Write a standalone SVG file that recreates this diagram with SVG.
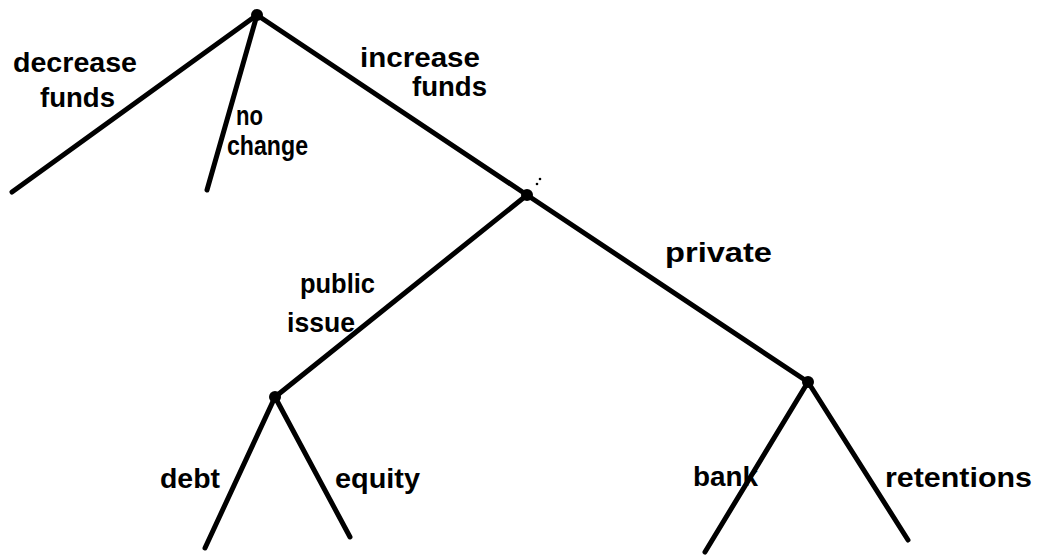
<svg xmlns="http://www.w3.org/2000/svg" width="1038" height="558" viewBox="0 0 1038 558">
<style>
.e{stroke:#000;stroke-width:5;stroke-linecap:round;fill:none}
.d{fill:#000}
.t{font-family:"Liberation Sans",Arial,sans-serif;font-size:27px;font-weight:bold;fill:#000}
</style>
<rect width="1038" height="558" fill="#fff"/>
<g id="connectors">
<line class="e" x1="257" y1="15" x2="12" y2="192"/>
<line class="e" x1="257" y1="15" x2="207" y2="190"/>
<line class="e" x1="257" y1="15" x2="527" y2="195"/>
<line class="e" x1="527" y1="195" x2="275" y2="397"/>
<line class="e" x1="527" y1="195" x2="808" y2="382"/>
<line class="e" x1="275" y1="397" x2="205" y2="548"/>
<line class="e" x1="275" y1="397" x2="350" y2="537"/>
<line class="e" x1="808" y1="382" x2="705" y2="552"/>
<line class="e" x1="808" y1="382" x2="908" y2="540"/>
</g>
<g id="n-root"><circle class="d" cx="257" cy="15" r="6"/></g>
<g id="n-increase"><circle class="d" cx="527" cy="195" r="6"/><circle class="d" cx="540" cy="179" r="1.3"/><circle class="d" cx="537" cy="184" r="1.3"/></g>
<g id="n-public"><circle class="d" cx="275" cy="397" r="6"/></g>
<g id="n-private"><circle class="d" cx="808" cy="382" r="6"/></g>
<g id="labels">
<text class="t" x="13" y="72" textLength="124" lengthAdjust="spacingAndGlyphs">decrease</text>
<text class="t" x="40" y="107" textLength="75" lengthAdjust="spacingAndGlyphs">funds</text>
<text class="t" x="236" y="125" font-size="22" textLength="27" lengthAdjust="spacingAndGlyphs">no</text>
<text class="t" x="227" y="155" textLength="81" lengthAdjust="spacingAndGlyphs">change</text>
<text class="t" x="360" y="67" textLength="120" lengthAdjust="spacingAndGlyphs">increase</text>
<text class="t" x="412" y="96" textLength="75" lengthAdjust="spacingAndGlyphs">funds</text>
<text class="t" x="300" y="293" textLength="75" lengthAdjust="spacingAndGlyphs">public</text>
<text class="t" x="287" y="332" textLength="68" lengthAdjust="spacingAndGlyphs">issue</text>
<text class="t" x="665" y="262" textLength="107" lengthAdjust="spacingAndGlyphs">private</text>
<text class="t" x="160" y="488" textLength="60" lengthAdjust="spacingAndGlyphs">debt</text>
<text class="t" x="335" y="488" textLength="85" lengthAdjust="spacingAndGlyphs">equity</text>
<text class="t" x="693" y="486" textLength="65" lengthAdjust="spacingAndGlyphs">bank</text>
<text class="t" x="885" y="487" textLength="147" lengthAdjust="spacingAndGlyphs">retentions</text>
</g>
</svg>
